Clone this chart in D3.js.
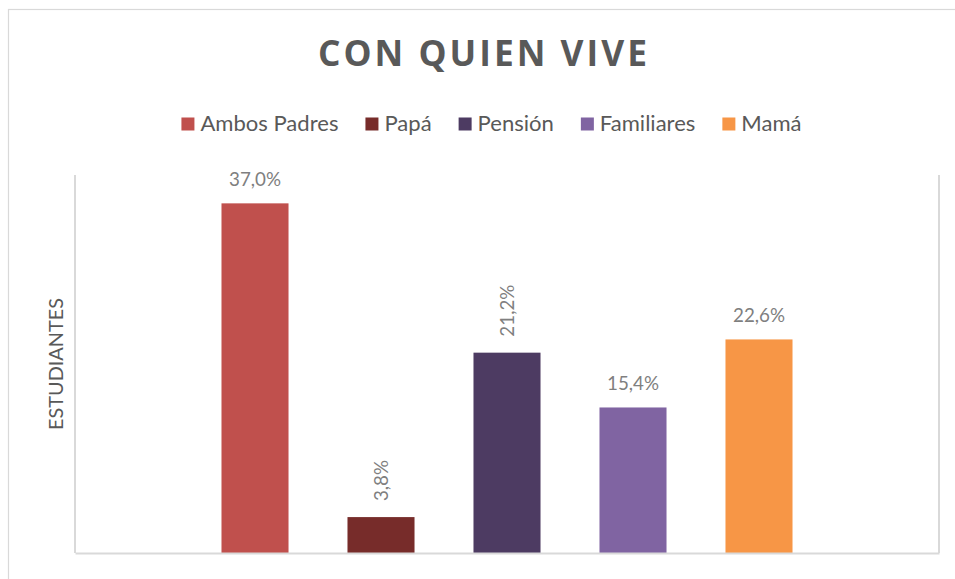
<!DOCTYPE html>
<html>
<head>
<meta charset="utf-8">
<script src="https://cdn.jsdelivr.net/npm/d3@7"></script>
<style>
  html, body { margin: 0; padding: 0; background: #ffffff; }
  svg { display: block; }
</style>
</head>
<body>
<svg id="chart" width="955" height="579"></svg>
<script>
// ---- data ----
const chartTitle = "CON QUIEN VIVE";
const yAxisTitle = "ESTUDIANTES";
const series = ["Ambos Padres", "Papá", "Pensión", "Familiares", "Mamá"];
const values = [37.0, 3.8, 21.2, 15.4, 22.6];
const yDomain = [0, 40];

// ---- styles ----
const colors = ["#c0504d", "#772c2a", "#4d3b62", "#8064a2", "#f79646"];
const labelRotated = [false, true, true, false, false];

const svg = d3.select("#chart");
const W = 955, H = 579;
const plot = { left: 75, right: 939, top: 175, bottom: 553 };
const bodyFont = "Lato, 'Open Sans', sans-serif";

// fit font size so that text width matches a target
function fitSize(text, family, weight, spacing, target, start) {
  const t = svg.append("text").attr("font-family", family).attr("font-weight", weight)
    .style("letter-spacing", spacing + "px").text(text);
  let s = start;
  for (let i = 0; i < 4; i++) {
    t.attr("font-size", s);
    const w = t.node().getComputedTextLength();
    s = s * target / w;
  }
  t.remove();
  return s;
}

// outer chart border
svg.append("rect").attr("x", 8.5).attr("y", 9.5).attr("width", W).attr("height", H)
  .attr("fill", "none").attr("stroke", "#d9d9d9").attr("stroke-width", 1.2);

// scales
const x = d3.scaleBand().domain(series).range([plot.left, plot.right])
  .paddingInner(0.468).paddingOuter(1.1626);
const y = d3.scaleLinear().domain(yDomain).range([plot.bottom, plot.top]);

// plot frame (left / right / bottom)
const frame = svg.append("g").attr("stroke", "#d9d9d9").attr("stroke-width", 2).attr("fill", "none");
frame.append("line").attr("x1", plot.left).attr("x2", plot.left).attr("y1", y(yDomain[1])).attr("y2", y(0));
frame.append("line").attr("x1", plot.right).attr("x2", plot.right).attr("y1", y(yDomain[1])).attr("y2", y(0));

// bars
svg.append("g").selectAll("rect").data(series).join("rect")
  .attr("x", d => x(d))
  .attr("y", (d, i) => y(values[i]))
  .attr("width", x.bandwidth())
  .attr("height", (d, i) => y(0) - y(values[i]))
  .attr("fill", (d, i) => colors[i]);

// bottom axis line
const xAxis = svg.append("g").attr("transform", `translate(0,${y(0)})`)
  .call(d3.axisBottom(d3.scaleLinear().range([plot.left, plot.right])).ticks(0).tickSize(0).tickFormat(""));
xAxis.select(".domain").attr("stroke", "#d9d9d9").attr("stroke-width", 2);

// value labels
const fmt = v => d3.format(".1f")(v).replace(".", ",") + "%";
const labelSize = fitSize("37,0%", bodyFont, 400, 0, 52, 18);
const labels = svg.append("g").attr("font-family", bodyFont).attr("font-size", labelSize).attr("fill", "#7f7f7f");
series.forEach((s, i) => {
  const cx = x(s) + x.bandwidth() / 2;
  const top = y(values[i]);
  if (labelRotated[i]) {
    labels.append("text")
      .attr("transform", `translate(${cx},${top - 16}) rotate(-90)`)
      .attr("dy", "0.36em").attr("text-anchor", "start").text(fmt(values[i]));
  } else {
    labels.append("text").attr("x", cx).attr("y", top - 17)
      .attr("text-anchor", "middle").text(fmt(values[i]));
  }
});

// title
const titleSpacing = 3;
const titleSize = fitSize(chartTitle, "'Open Sans', sans-serif", 700, titleSpacing, 329 + titleSpacing, 30);
svg.append("text").attr("x", 482.5 + titleSpacing / 2).attr("y", 66)
  .attr("text-anchor", "middle").attr("font-family", "'Open Sans', sans-serif")
  .attr("font-weight", 700).attr("font-size", titleSize)
  .style("letter-spacing", titleSpacing + "px").attr("fill", "#595959").text(chartTitle);

// y-axis title
const yTitleSize = fitSize(yAxisTitle, bodyFont, 400, 0, 132, 18);
svg.append("text").attr("transform", `translate(63,${(plot.top + plot.bottom) / 2}) rotate(-90)`)
  .attr("text-anchor", "middle").attr("font-family", bodyFont).attr("font-size", yTitleSize)
  .attr("fill", "#595959").text(yAxisTitle);

// legend
const legSize = fitSize("Ambos Padres", bodyFont, 400, 0, 138, 19);
const legend = svg.append("g").attr("font-family", bodyFont).attr("font-size", legSize).attr("fill", "#595959");
const sw = 13, swGap = 6, itemGap = 27;
let cursor = 0;
const items = series.map((s, i) => {
  const g = legend.append("g");
  g.append("rect").attr("x", 0).attr("y", -13.5).attr("width", sw).attr("height", sw).attr("fill", colors[i]);
  const t = g.append("text").attr("x", sw + swGap).attr("y", 0).text(s);
  const w = sw + swGap + t.node().getComputedTextLength();
  g.attr("transform", `translate(${cursor},131)`);
  cursor += w + itemGap;
  return g;
});
const legendWidth = cursor - itemGap;
legend.attr("transform", `translate(${491.5 - legendWidth / 2},0)`);
</script>
</body>
</html>
